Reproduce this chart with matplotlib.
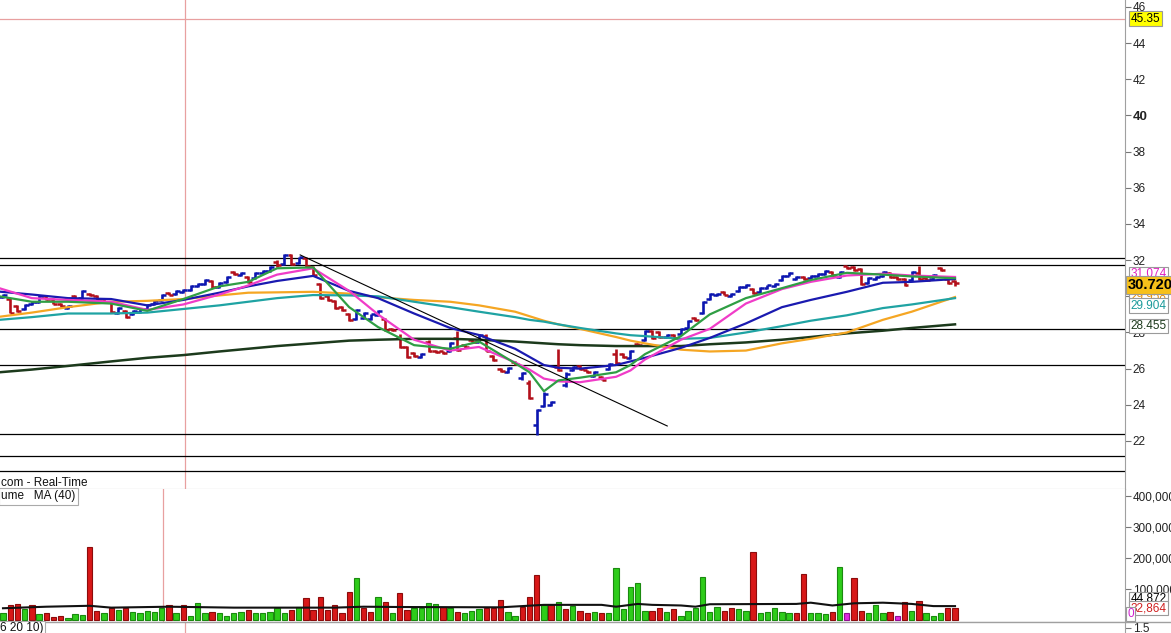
import matplotlib
matplotlib.use("Agg")
import matplotlib.pyplot as plt
from matplotlib.lines import Line2D

plt.rcParams['font.family'] = ['Liberation Sans', 'DejaVu Sans']

# daily bars, oldest first
opens = [29.95, 29.85, 29.45, 29.3, 29.55, 29.7, 30.0, 29.85, 29.6, 29.35,
         30.0, 29.9, 30.15, 30.0, 29.85, 29.7, 29.1, 29.2, 29.0, 29.15,
         29.3, 29.55, 29.8, 30.2, 30.15, 30.25, 30.35, 30.55, 30.7, 30.85,
         30.5, 30.8, 31.35, 31.2, 31.05, 31.0, 31.3, 31.4, 31.9, 31.8,
         32.3, 31.85, 32.1, 31.6, 30.7, 30.0, 29.75, 29.4, 29.05, 28.75,
         28.8, 28.75, 28.95, 28.75, 28.2, 27.7, 27.2, 26.85, 26.65, 27.5,
         27.0, 26.95, 26.95, 27.7, 27.3, 27.6, 27.5, 27.8, 26.7, 26.0,
         25.8, 26.35, 25.5, 25.2, 22.9, 23.95, 24.0, 26.1, 25.1, 25.9,
         26.15, 25.9, 25.6, 25.55, 26.0, 26.8, 26.8, 26.6, 27.35, 27.6,
         28.1, 28.0, 27.75, 27.85, 27.9, 28.25, 28.8, 29.1, 29.85, 30.05,
         30.25, 30.0, 30.3, 30.5, 30.4, 30.25, 30.45, 30.55, 30.9, 31.15,
         30.95, 31.05, 31.0, 31.1, 31.25, 31.35, 31.05, 31.65, 31.6, 31.5,
         30.75, 30.95, 31.1, 31.3, 31.05, 30.95, 30.9, 31.3, 31.0, 30.95,
         31.55, 30.95, 30.85]
highs = [30.15, 29.9, 29.5, 29.55, 29.75, 30.05, 30.0, 29.9, 29.65, 29.5,
         30.1, 30.35, 30.2, 30.05, 29.9, 29.75, 29.4, 29.25, 29.25, 29.35,
         29.55, 29.8, 30.15, 30.25, 30.35, 30.4, 30.6, 30.75, 30.95, 30.9,
         30.8, 31.1, 31.4, 31.35, 31.1, 31.35, 31.45, 31.65, 32.0, 32.35,
         32.35, 32.2, 32.15, 31.65, 30.75, 30.05, 29.8, 29.45, 29.1, 29.3,
         29.15, 29.05, 29.25, 28.8, 28.25, 27.9, 27.25, 26.9, 26.85, 27.6,
         27.05, 27.0, 27.45, 28.1, 27.35, 27.65, 27.9, 27.9, 26.75, 26.05,
         26.1, 26.4, 25.8, 25.4, 23.75, 24.7, 24.2, 27.1, 25.8, 26.15,
         26.2, 25.95, 25.85, 25.6, 26.3, 27.1, 26.85, 27.05, 27.4, 28.15,
         28.15, 28.1, 27.9, 27.9, 28.25, 28.7, 28.85, 29.75, 30.2, 30.2,
         30.3, 30.2, 30.55, 30.7, 30.45, 30.5, 30.65, 30.75, 31.2, 31.35,
         31.1, 31.1, 31.2, 31.3, 31.45, 31.4, 31.4, 31.7, 31.65, 31.55,
         31.05, 31.1, 31.4, 31.35, 31.1, 31.0, 31.4, 31.65, 31.05, 31.25,
         31.6, 31.0, 30.9]
lows = [29.9, 29.1, 29.15, 29.25, 29.5, 29.65, 29.8, 29.55, 29.4, 29.3,
        29.8, 29.85, 30.0, 29.8, 29.65, 29.1, 29.05, 28.8, 28.95, 29.1,
        29.25, 29.5, 29.75, 30.05, 30.1, 30.2, 30.3, 30.5, 30.65, 30.45,
        30.45, 30.75, 31.2, 31.15, 30.75, 30.95, 31.25, 31.35, 31.6, 31.75,
        31.75, 31.8, 31.6, 31.15, 29.85, 29.75, 29.3, 29.2, 28.65, 28.7,
        28.75, 28.7, 28.9, 28.1, 28.1, 27.15, 26.6, 26.65, 26.6, 26.9,
        26.85, 26.8, 26.9, 27.0, 27.15, 27.45, 27.45, 26.95, 26.45, 25.8,
        25.75, 26.2, 25.4, 24.3, 22.35, 23.9, 23.95, 25.85, 25.0, 25.85,
        25.95, 25.75, 25.55, 25.35, 25.95, 26.25, 26.6, 26.55, 27.25, 27.55,
        27.65, 27.7, 27.7, 27.65, 27.85, 28.2, 28.65, 29.05, 29.8, 30.0,
        30.05, 29.95, 30.25, 30.45, 30.15, 30.2, 30.4, 30.5, 30.85, 31.1,
        30.9, 30.9, 30.95, 31.05, 31.2, 31.15, 31.0, 31.5, 31.4, 30.65,
        30.7, 30.9, 31.05, 31.0, 30.9, 30.55, 30.85, 30.9, 30.85, 30.9,
        31.4, 30.7, 30.55]
closes = [30.1, 29.1, 29.2, 29.5, 29.7, 30.0, 29.85, 29.6, 29.45, 29.45,
          29.85, 30.3, 30.05, 29.85, 29.7, 29.15, 29.35, 28.85, 29.2, 29.3,
          29.5, 29.75, 30.1, 30.1, 30.3, 30.35, 30.55, 30.7, 30.9, 30.5,
          30.75, 31.05, 31.25, 31.3, 30.8, 31.3, 31.4, 31.6, 31.75, 32.3,
          31.8, 32.15, 31.65, 31.2, 29.9, 29.8, 29.35, 29.25, 28.7, 29.25,
          29.1, 29.0, 29.2, 28.15, 28.15, 27.2, 26.65, 26.7, 26.8, 26.95,
          26.9, 26.85, 27.4, 27.05, 27.2, 27.5, 27.85, 27.0, 26.5, 25.85,
          26.05, 26.25, 25.75, 24.35, 23.7, 24.6, 24.15, 25.9, 25.7, 26.1,
          26.0, 25.8, 25.8, 25.4, 26.25, 26.3, 26.65, 27.0, 27.3, 28.1,
          27.7, 27.75, 27.85, 27.7, 28.2, 28.65, 28.7, 29.7, 30.15, 30.15,
          30.1, 30.15, 30.5, 30.65, 30.2, 30.45, 30.6, 30.7, 31.15, 31.3,
          31.05, 30.95, 31.15, 31.25, 31.4, 31.2, 31.35, 31.55, 31.45, 30.7,
          31.0, 31.05, 31.35, 31.05, 30.95, 30.65, 31.35, 30.95, 30.9, 31.2,
          31.45, 30.75, 30.72]

# volume in thousands, colour code per bar (g up, r down, m unchanged)
volume_k = [24, 47, 51, 35, 47, 18, 24, 11, 14, 8,
            18, 15, 235, 30, 24, 40, 32, 40, 27, 22,
            30, 27, 40, 47, 22, 47, 14, 56, 22, 27,
            22, 14, 24, 27, 32, 22, 24, 27, 38, 24,
            32, 43, 70, 32, 73, 32, 47, 24, 92, 135,
            40, 27, 73, 59, 24, 86, 32, 40, 38, 54,
            51, 43, 38, 27, 24, 30, 35, 40, 40, 65,
            27, 13, 43, 76, 145, 49, 49, 57, 35, 45,
            30, 22, 27, 24, 24, 167, 35, 106, 121, 30,
            30, 38, 27, 35, 14, 30, 38, 138, 27, 41,
            30, 38, 35, 30, 219, 22, 27, 38, 27, 24,
            22, 148, 22, 24, 18, 27, 170, 24, 135, 30,
            22, 49, 22, 27, 14, 59, 30, 63, 22, 14,
            22, 40, 38]
vol_colors = list("grrgrgrrrg" "ggrrgrgrgg" "gggrgrgggr" "ggggrggggg"
                  "rgrrrrrrrg" "rrgrgrrggg" "grgrgggrrr" "ggrrrgrgrg"
                  "rrgrgggggg" "rrgrgggggg" "rrggrggggg" "rrgggrgmrr"
                  "gggrmrgrgg" "grr")

# volume MA(40), sampled along the line
vma_idx = [0, 6, 12, 15, 23, 32, 46, 50, 55, 69, 75, 83, 85, 88, 90, 94, 96,
           98, 110, 112, 115, 118, 122, 126, 129, 132]
vma_val = [38, 43, 46, 40, 43, 40, 40, 43, 42, 41, 49, 49, 43, 52, 49, 47, 43,
           51, 52, 56, 47, 54, 56, 52, 45, 44.9]

# price moving averages, sampled along each line
ma_idx = [-0.5, 4, 9, 15, 20, 25, 30, 34, 38, 43, 48, 52, 57, 62, 66, 71, 73,
          75, 77, 80, 85, 87, 89, 94, 98, 103, 108, 112, 117, 122, 126, 132]
ma_green = [30.0, 29.7, 29.7, 29.6, 29.2, 29.85, 30.55, 30.8, 31.55, 31.6,
            29.4, 28.3, 27.3, 27.1, 27.5, 26.3, 25.8, 24.75, 25.35, 25.5,
            25.8, 26.2, 26.8, 27.8, 29.0, 29.9, 30.45, 30.9, 31.3, 31.2,
            31.1, 31.0]
ma_pink = [30.45, 29.9, 29.8, 29.7, 29.25, 29.55, 30.1, 30.6, 31.2, 31.55,
           30.3, 29.0, 27.6, 27.0, 27.2, 26.35, 25.95, 25.45, 25.3, 25.25,
           25.55, 25.9, 26.5, 27.6, 28.2, 29.6, 30.4, 30.8, 31.15, 31.25,
           31.15, 31.07]
ma_blue = [30.26, 30.1, 29.9, 29.85, 29.5, 29.8, 30.2, 30.55, 30.85, 31.13,
           30.3, 29.9, 29.05, 28.25, 27.86, 27.1, 26.65, 26.2, 26.05, 26.0,
           26.2, 26.4, 26.6, 27.15, 27.7, 28.5, 29.4, 29.8, 30.25, 30.75,
           30.8, 30.96]
ma_teal = [28.7, 28.85, 29.05, 29.05, 29.1, 29.3, 29.5, 29.7, 29.9, 30.07,
           30.05, 30.0, 29.7, 29.4, 29.15, 28.85, 28.7, 28.6, 28.45, 28.25,
           27.95, 27.85, 27.8, 27.65, 27.7, 28.0, 28.35, 28.65, 28.95, 29.35,
           29.55, 29.9]
ma_orange = [28.87, 29.1, 29.4, 29.7, 29.75, 29.85, 30.05, 30.2, 30.22, 30.25,
             30.15, 29.95, 29.8, 29.7, 29.5, 29.15, 28.9, 28.65, 28.45, 28.2,
             27.75, 27.55, 27.4, 27.05, 26.95, 27.0, 27.4, 27.65, 28.0, 28.7,
             29.15, 29.96]
ma_dkgreen = [25.8, 25.95, 26.15, 26.4, 26.6, 26.75, 26.95, 27.1, 27.25, 27.4,
              27.55, 27.6, 27.65, 27.65, 27.6, 27.5, 27.45, 27.4, 27.35, 27.3,
              27.25, 27.25, 27.25, 27.25, 27.35, 27.45, 27.6, 27.75, 27.95,
              28.1, 28.25, 28.45]

levels = [32.1, 31.72, 28.18, 26.2, 22.39, 21.17, 20.34]
trend_idx = [41.2, 92.1]
trend_val = [32.29, 22.83]
cursor_price = 45.35
cursor_idx_price = 25.24
cursor_idx_vol = 22.19

W, H = 1171, 633
fig = plt.figure(figsize=(W / 100, H / 100), dpi=100)


def fy(py):
    return 1 - py / H


plot_w = 1125 / W
ax = fig.add_axes([0, fy(489), plot_w, 489 / H])
axv = fig.add_axes([0, fy(622), plot_w, 133 / H])
axb = fig.add_axes([0, 0, plot_w, 11 / H])

n = len(closes)
idx = list(range(n))

# OHLC bars
up_col, dn_col = '#0c16b0', '#b3101a'
cols = [up_col if c >= o else dn_col for o, c in zip(opens, closes)]
ax.vlines(idx, lows, highs, colors=cols, lw=1.9, zorder=3)
ax.hlines(opens, [i - 0.55 for i in idx], idx, colors=cols, lw=1.8, zorder=3)
ax.hlines(closes, idx, [i + 0.55 for i in idx], colors=cols, lw=1.8, zorder=3)

for vals, col, lw in [(ma_dkgreen, '#1c3a1c', 1.8), (ma_orange, '#f5a623', 1.6),
                      (ma_teal, '#1fa3a3', 1.6), (ma_blue, '#1a1ab0', 1.6),
                      (ma_pink, '#f03cc8', 1.6), (ma_green, '#2f9e44', 1.6)]:
    ax.plot(ma_idx, vals, color=col, lw=lw, zorder=4, solid_joinstyle='round')

for lv in levels:
    ax.axhline(lv, color='black', lw=0.9, zorder=2)
ax.plot(trend_idx, trend_val, color='black', lw=0.8, zorder=5)

ax.axhline(cursor_price, color='#e8a0a0', lw=0.9, zorder=1)
ax.axvline(cursor_idx_price, color='#e8a0a0', lw=0.9, zorder=1)
axv.axvline(cursor_idx_vol, color='#e8a0a0', lw=0.9, zorder=1)
axb.axvline(cursor_idx_price, color='#e8a0a0', lw=0.9, zorder=1)

# volume
vfill = {'g': '#2ecc1a', 'r': '#d81818', 'm': '#e028e0'}
vedge = {'g': '#1b8a10', 'r': '#8c0c0c', 'm': '#901090'}
axv.bar(idx, volume_k, width=0.74, color=[vfill[c] for c in vol_colors],
        edgecolor=[vedge[c] for c in vol_colors], linewidth=0.8, zorder=3)
axv.plot(vma_idx, vma_val, color='#111111', lw=1.5, zorder=4)

for a in (ax, axv, axb):
    a.set_xlim(-0.416, 155.57)
    a.set_xticks([])
    a.spines['top'].set_visible(False)
    a.spines['left'].set_visible(False)
    a.spines['right'].set_color('#a0a0a0')
    a.spines['bottom'].set_color('#a0a0a0')
    a.yaxis.tick_right()
    a.tick_params(axis='y', direction='out', length=4, width=0.8, color='#777777',
                  labelsize=8.5, pad=1.5, labelcolor='#222222')

ax.set_ylim(19.345, 46.387)
pticks = list(range(22, 48, 2))
ax.set_yticks(pticks)
ax.set_yticklabels([str(t) for t in pticks])
for lab in ax.get_yticklabels():
    if lab.get_text() == '40':
        lab.set_fontweight('bold')
        lab.set_fontsize(9.5)

axv.set_ylim(-6.5, 424)
axv.set_yticks([100, 200, 300, 400])
axv.set_yticklabels(['100,000', '200,000', '300,000', '400,000'])

axb.set_ylim(0, 3)
axb.set_yticks([1.5])
axb.set_yticklabels(['1.5'])
axb.spines['bottom'].set_visible(False)
fig.add_artist(Line2D([0, 1], [fy(622), fy(622)], color='#a0a0a0', lw=1))


def tag(a, y, s, fc='white', ec='#9a9a9a', tc='black', size=8.5, weight='normal',
        x=1.005, z=10):
    a.text(x, y, s, transform=a.get_yaxis_transform(), ha='left', va='center',
           fontsize=size, color=tc, fontweight=weight, clip_on=False, zorder=z,
           bbox=dict(boxstyle='square,pad=0.12', fc=fc, ec=ec, lw=0.8))


tag(ax, 45.35, '45.35', fc='#ffff00')
tag(ax, 31.22, '31.074', tc='#e020c0')
tag(ax, 29.96, '29.958', tc='#e8900a')
tag(ax, 29.47, '29.904', tc='#1a9a9a', z=11)
tag(ax, 30.63, '30.720', fc='#f7c01a', size=10.5, weight='bold', x=1.002, z=12)
tag(ax, 28.36, '28.455', tc='#1c3a1c')

tag(axv, 68, '44,872')
tag(axv, 38.8, '32,864', tc='#d02020')
tag(axv, 19.4, '0', tc='#d020d0', x=1.002, z=11)

fig.text(1 / W, fy(483), 'com - Real-Time', fontsize=8.5, va='center', ha='left',
         color='#111111')
fig.text(1 / W, fy(496.5), 'ume   MA (40)', fontsize=8.5, va='center', ha='left',
         color='#111111',
         bbox=dict(boxstyle='square,pad=0.2', fc='white', ec='#aaaaaa', lw=0.8))
fig.text(0, fy(628.5), '6 20 10)', fontsize=8.5, va='center', ha='left',
         color='#111111',
         bbox=dict(boxstyle='square,pad=0.15', fc='white', ec='#aaaaaa', lw=0.8))

fig.savefig('out.png', dpi=100, facecolor='white')
